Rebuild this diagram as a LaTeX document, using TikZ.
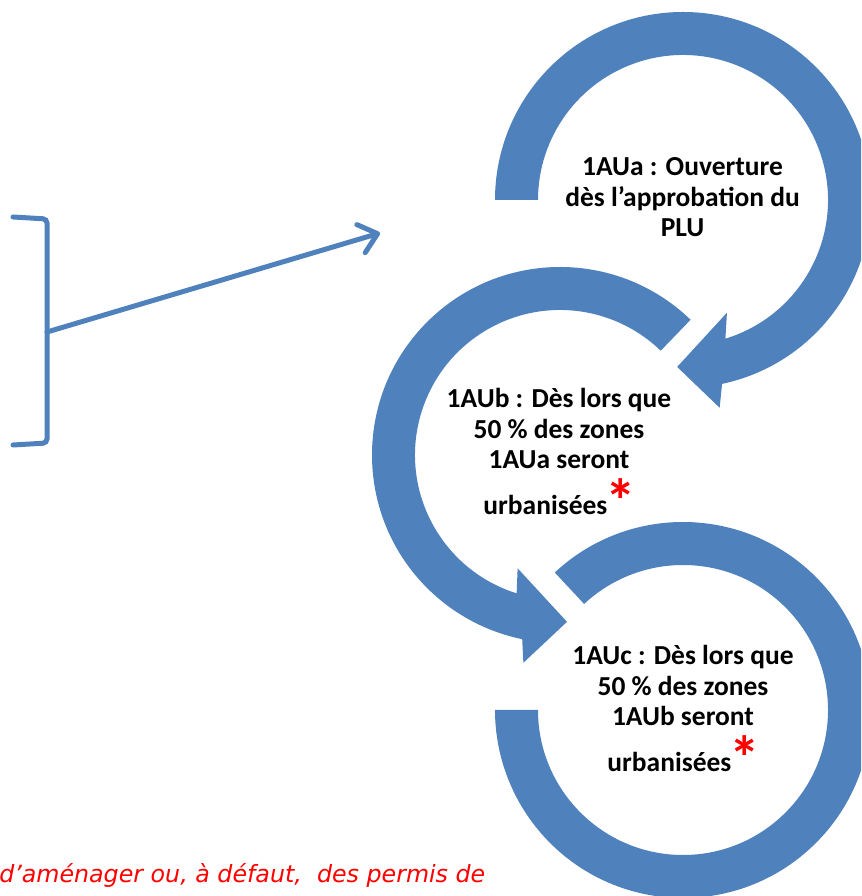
\documentclass[tikz,border=0pt]{standalone}
\usepackage{fontspec}
\setmainfont{Carlito}
\newfontfamily\notefont{DejaVu Sans}
\usetikzlibrary{arrows.meta,calc}
\definecolor{ringblue}{HTML}{4F81BD}
\newcommand\redstar{\kern-1.5pt\smash{\raisebox{-5.5pt}{\textcolor{red}{\fontsize{46pt}{46pt}\selectfont *}}}\kern-1pt}
\begin{document}
\begin{tikzpicture}[x=0.75pt,y=0.75pt,
  ring/.style={fill=ringblue},
  ringtext/.style={font=\fontsize{20.6pt}{22.9pt}\selectfont\bfseries, align=center, inner sep=0pt, anchor=base},
  bracketline/.style={draw=ringblue, line width=3.75pt, rounded corners=3pt, line cap=round},
  linkarrow/.style={draw=ringblue, line width=3.75pt, line cap=round, -{Straight Barb[length=13pt,width=22pt,round]}},
  note/.style={font=\notefont\itshape\fontsize{17.8pt}{20pt}\selectfont, text=red, inner sep=0pt, anchor=base west}]
\useasboundingbox (0,0) rectangle (861,896);
\clip (0,0) rectangle (861,896);
\coordinate (C1) at (683,696);
\coordinate (C2) at (560,441);
\coordinate (C3) at (683,186);
% ring 1 (clockwise, arrow at bottom)
\fill[ring] ($(C1)+(180:188)$) arc[start angle=180, end angle=-78, radius=188]
  -- ($(C1)+(-80:211)$) -- ($(C1)+(-92:167)$) -- ($(C1)+(-68.7:121)$)
  -- ($(C1)+(-73:145)$) arc[start angle=-73, end angle=180, radius=145] -- cycle;
% ring 2 (counter-clockwise, arrow at bottom)
\fill[ring] ($(C2)+(46:188)$) arc[start angle=46, end angle=258.4, radius=188]
  -- ($(C2)+(260:211)$) -- ($(C2)+(272.4:167)$) -- ($(C2)+(249.5:121)$)
  -- ($(C2)+(252.6:145)$) arc[start angle=252.6, end angle=46, radius=145] -- cycle;
% ring 3 (no arrow)
\fill[ring] ($(C3)+(133:188)$) arc[start angle=133, end angle=-180, radius=188]
  -- ($(C3)+(-180:145)$) arc[start angle=-180, end angle=133, radius=145] -- cycle;
% texts (base anchor = last line baseline)
\node[ringtext] (t1) at (682.5,659) {1AUa : Ouverture\\dès l’approbation du\\PLU};
\node[ringtext] (t2) at (559,381) {1AUb : Dès lors que\\50 \% des zones\\1AUa seront\\[11.6pt]urbanisées\redstar};
\node[ringtext] (t3) at (683,124) {1AUc : Dès lors que\\50 \% des zones\\1AUb seront\\[11.6pt]urbanisées\redstar};
% bracket and arrow
\coordinate (bt) at (13,679);
\coordinate (bb) at (13,451);
\coordinate (bm) at (47,564);
\coordinate (ae) at (380,663);
\draw[bracketline] (bt) -- (47,677) -- (47,453) -- (bb);
\draw[linkarrow] (bm) -- (ae);
% note
\node[note] (n) at (-1,13) {d’aménager ou, à défaut,\ \ des permis de};
\end{tikzpicture}
\end{document}
